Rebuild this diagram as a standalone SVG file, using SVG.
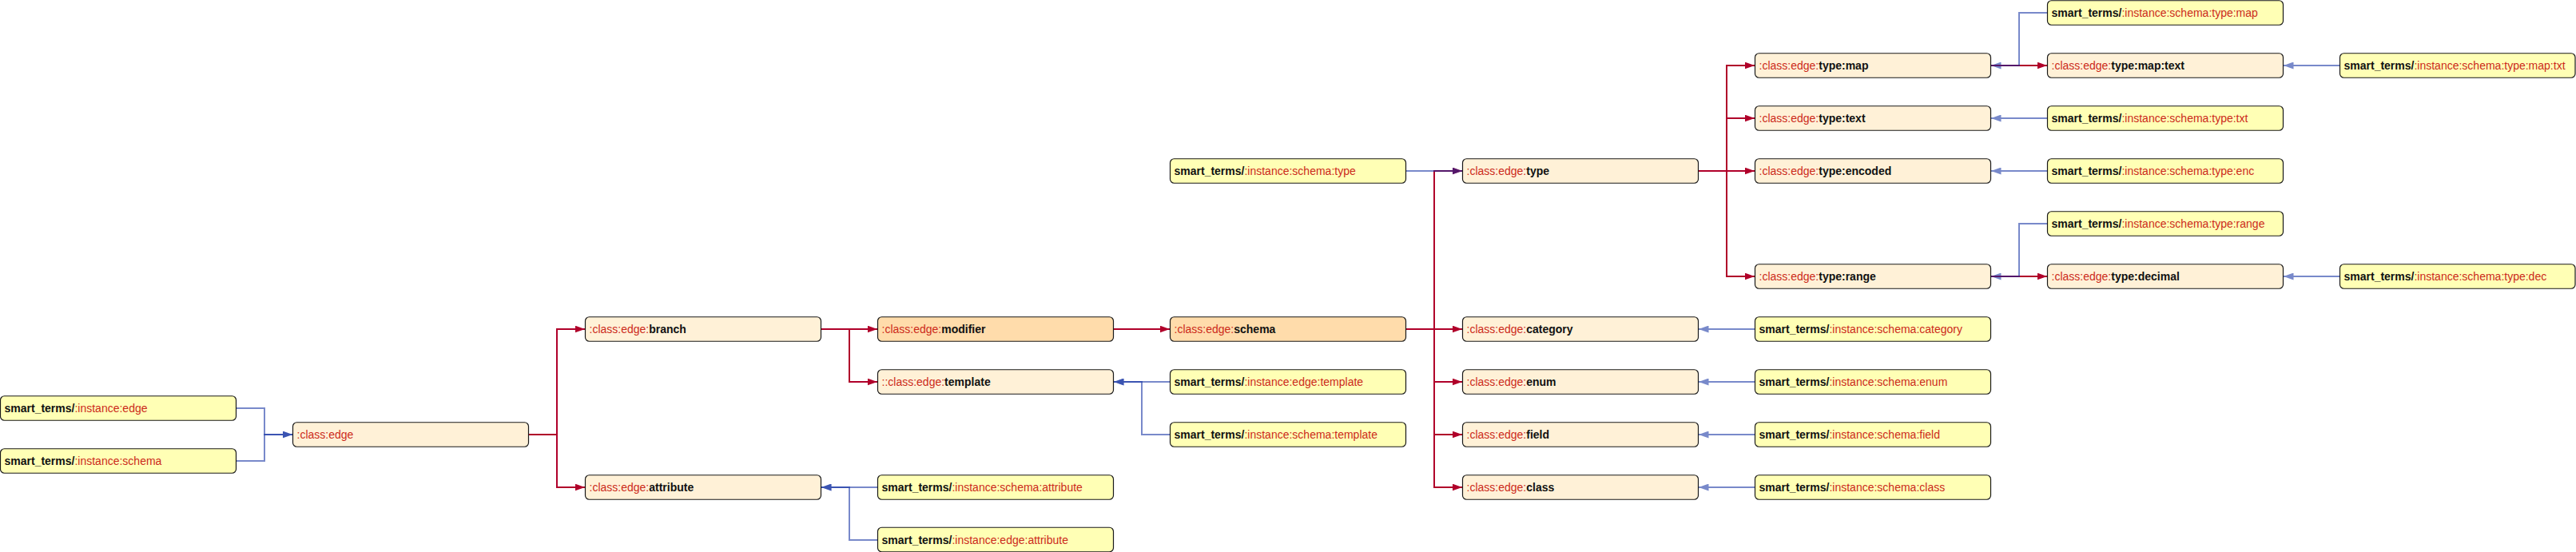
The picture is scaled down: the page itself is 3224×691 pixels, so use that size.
<svg xmlns="http://www.w3.org/2000/svg" width="3224" height="691" viewBox="0 0 3224 691">
<style>
.n rect{stroke:#1a1a1a;stroke-width:1.2}
.c{fill:#fff1d7}
.o{fill:#ffdcab}
.i{fill:#ffffb5}
text{font-family:"Liberation Sans",Arial,Helvetica,sans-serif;font-size:14px;fill:#cc2a1a}
.b{font-weight:bold;fill:#111}
.red path{fill:none;stroke:#b0002a;stroke-width:2}
.blue path{fill:none;stroke:#0a2aa0;stroke-width:2;opacity:0.55}
</style>
<defs>
<marker id="ar" markerUnits="userSpaceOnUse" markerWidth="13" markerHeight="9" refX="12.5" refY="4.5" orient="auto"><path d="M0,0 L12.5,4.5 L0,9 Z" fill="#b0002a"/></marker>
<marker id="ab" markerUnits="userSpaceOnUse" markerWidth="13" markerHeight="9" refX="12.5" refY="4.5" orient="auto"><path d="M0,0 L12.5,4.5 L0,9 Z" fill="#0a2aa0"/></marker>
</defs>
<rect width="3224" height="691" fill="#ffffff"/>
<g id="connectors">
<g class="red">
<path d="M661.5,544 H697 V412 H732" marker-end="url(#ar)"/>
<path d="M661.5,544 H697 V610 H732" marker-end="url(#ar)"/>
<path d="M1027.5,412 H1098" marker-end="url(#ar)"/>
<path d="M1027.5,412 H1063 V478 H1098" marker-end="url(#ar)"/>
<path d="M1393.5,412 H1464" marker-end="url(#ar)"/>
<path d="M1759.5,412 H1795 V214 H1830" marker-end="url(#ar)"/>
<path d="M1759.5,412 H1830" marker-end="url(#ar)"/>
<path d="M1759.5,412 H1795 V478 H1830" marker-end="url(#ar)"/>
<path d="M1759.5,412 H1795 V544 H1830" marker-end="url(#ar)"/>
<path d="M1759.5,412 H1795 V610 H1830" marker-end="url(#ar)"/>
<path d="M2125.5,214 H2161 V82 H2196" marker-end="url(#ar)"/>
<path d="M2125.5,214 H2161 V148 H2196" marker-end="url(#ar)"/>
<path d="M2125.5,214 H2196" marker-end="url(#ar)"/>
<path d="M2125.5,214 H2161 V346 H2196" marker-end="url(#ar)"/>
<path d="M2491.5,82 H2562" marker-end="url(#ar)"/>
<path d="M2491.5,346 H2562" marker-end="url(#ar)"/>
</g>
<g class="blue">
<path d="M295.5,511 H331 V544 H366" marker-end="url(#ab)"/>
<path d="M295.5,577 H331 V544 H366" marker-end="url(#ab)"/>
<path d="M1464.5,478 H1394" marker-end="url(#ab)"/>
<path d="M1464.5,544 H1429 V478 H1394" marker-end="url(#ab)"/>
<path d="M1098.5,610 H1028" marker-end="url(#ab)"/>
<path d="M1098.5,676 H1063 V610 H1028" marker-end="url(#ab)"/>
<path d="M1759.5,214 H1830" marker-end="url(#ab)"/>
<path d="M2196.5,412 H2126" marker-end="url(#ab)"/>
<path d="M2196.5,478 H2126" marker-end="url(#ab)"/>
<path d="M2196.5,544 H2126" marker-end="url(#ab)"/>
<path d="M2196.5,610 H2126" marker-end="url(#ab)"/>
<path d="M2562.5,16 H2527 V82 H2492" marker-end="url(#ab)"/>
<path d="M2562.5,148 H2492" marker-end="url(#ab)"/>
<path d="M2562.5,214 H2492" marker-end="url(#ab)"/>
<path d="M2562.5,280 H2527 V346 H2492" marker-end="url(#ab)"/>
<path d="M2928.5,82 H2858" marker-end="url(#ab)"/>
<path d="M2928.5,346 H2858" marker-end="url(#ab)"/>
</g>
</g>
<g id="n_inst_edge" class="n" transform="translate(0.5,495.75)"><rect class="i" width="295" height="30.5" rx="5"/><text x="5" y="20.25"><tspan class="b">smart_terms/</tspan>:instance:edge</text></g>
<g id="n_inst_schema" class="n" transform="translate(0.5,561.75)"><rect class="i" width="295" height="30.5" rx="5"/><text x="5" y="20.25"><tspan class="b">smart_terms/</tspan>:instance:schema</text></g>
<g id="n_class_edge" class="n" transform="translate(366.5,528.75)"><rect class="c" width="295" height="30.5" rx="5"/><text x="5" y="20.25">:class:edge</text></g>
<g id="n_branch" class="n" transform="translate(732.5,396.75)"><rect class="c" width="295" height="30.5" rx="5"/><text x="5" y="20.25">:class:edge:<tspan class="b">branch</tspan></text></g>
<g id="n_attribute" class="n" transform="translate(732.5,594.75)"><rect class="c" width="295" height="30.5" rx="5"/><text x="5" y="20.25">:class:edge:<tspan class="b">attribute</tspan></text></g>
<g id="n_modifier" class="n" transform="translate(1098.5,396.75)"><rect class="o" width="295" height="30.5" rx="5"/><text x="5" y="20.25">:class:edge:<tspan class="b">modifier</tspan></text></g>
<g id="n_template" class="n" transform="translate(1098.5,462.75)"><rect class="c" width="295" height="30.5" rx="5"/><text x="5" y="20.25">::class:edge:<tspan class="b">template</tspan></text></g>
<g id="n_inst_schema_attribute" class="n" transform="translate(1098.5,594.75)"><rect class="i" width="295" height="30.5" rx="5"/><text x="5" y="20.25"><tspan class="b">smart_terms/</tspan>:instance:schema:attribute</text></g>
<g id="n_inst_edge_attribute" class="n" transform="translate(1098.5,660.25)"><rect class="i" width="295" height="30.5" rx="5"/><text x="5" y="20.75"><tspan class="b">smart_terms/</tspan>:instance:edge:attribute</text></g>
<g id="n_inst_schema_type" class="n" transform="translate(1464.5,198.75)"><rect class="i" width="295" height="30.5" rx="5"/><text x="5" y="20.25"><tspan class="b">smart_terms/</tspan>:instance:schema:type</text></g>
<g id="n_schema" class="n" transform="translate(1464.5,396.75)"><rect class="o" width="295" height="30.5" rx="5"/><text x="5" y="20.25">:class:edge:<tspan class="b">schema</tspan></text></g>
<g id="n_inst_edge_template" class="n" transform="translate(1464.5,462.75)"><rect class="i" width="295" height="30.5" rx="5"/><text x="5" y="20.25"><tspan class="b">smart_terms/</tspan>:instance:edge:template</text></g>
<g id="n_inst_schema_template" class="n" transform="translate(1464.5,528.75)"><rect class="i" width="295" height="30.5" rx="5"/><text x="5" y="20.25"><tspan class="b">smart_terms/</tspan>:instance:schema:template</text></g>
<g id="n_type" class="n" transform="translate(1830.5,198.75)"><rect class="c" width="295" height="30.5" rx="5"/><text x="5" y="20.25">:class:edge:<tspan class="b">type</tspan></text></g>
<g id="n_category" class="n" transform="translate(1830.5,396.75)"><rect class="c" width="295" height="30.5" rx="5"/><text x="5" y="20.25">:class:edge:<tspan class="b">category</tspan></text></g>
<g id="n_enum" class="n" transform="translate(1830.5,462.75)"><rect class="c" width="295" height="30.5" rx="5"/><text x="5" y="20.25">:class:edge:<tspan class="b">enum</tspan></text></g>
<g id="n_field" class="n" transform="translate(1830.5,528.75)"><rect class="c" width="295" height="30.5" rx="5"/><text x="5" y="20.25">:class:edge:<tspan class="b">field</tspan></text></g>
<g id="n_class" class="n" transform="translate(1830.5,594.75)"><rect class="c" width="295" height="30.5" rx="5"/><text x="5" y="20.25">:class:edge:<tspan class="b">class</tspan></text></g>
<g id="n_type_map" class="n" transform="translate(2196.5,66.75)"><rect class="c" width="295" height="30.5" rx="5"/><text x="5" y="20.25">:class:edge:<tspan class="b">type:map</tspan></text></g>
<g id="n_type_text" class="n" transform="translate(2196.5,132.75)"><rect class="c" width="295" height="30.5" rx="5"/><text x="5" y="20.25">:class:edge:<tspan class="b">type:text</tspan></text></g>
<g id="n_type_encoded" class="n" transform="translate(2196.5,198.75)"><rect class="c" width="295" height="30.5" rx="5"/><text x="5" y="20.25">:class:edge:<tspan class="b">type:encoded</tspan></text></g>
<g id="n_type_range" class="n" transform="translate(2196.5,330.75)"><rect class="c" width="295" height="30.5" rx="5"/><text x="5" y="20.25">:class:edge:<tspan class="b">type:range</tspan></text></g>
<g id="n_inst_schema_category" class="n" transform="translate(2196.5,396.75)"><rect class="i" width="295" height="30.5" rx="5"/><text x="5" y="20.25"><tspan class="b">smart_terms/</tspan>:instance:schema:category</text></g>
<g id="n_inst_schema_enum" class="n" transform="translate(2196.5,462.75)"><rect class="i" width="295" height="30.5" rx="5"/><text x="5" y="20.25"><tspan class="b">smart_terms/</tspan>:instance:schema:enum</text></g>
<g id="n_inst_schema_field" class="n" transform="translate(2196.5,528.75)"><rect class="i" width="295" height="30.5" rx="5"/><text x="5" y="20.25"><tspan class="b">smart_terms/</tspan>:instance:schema:field</text></g>
<g id="n_inst_schema_class" class="n" transform="translate(2196.5,594.75)"><rect class="i" width="295" height="30.5" rx="5"/><text x="5" y="20.25"><tspan class="b">smart_terms/</tspan>:instance:schema:class</text></g>
<g id="n_inst_schema_type_map" class="n" transform="translate(2562.5,0.75)"><rect class="i" width="295" height="30.5" rx="5"/><text x="5" y="20.25"><tspan class="b">smart_terms/</tspan>:instance:schema:type:map</text></g>
<g id="n_type_map_text" class="n" transform="translate(2562.5,66.75)"><rect class="c" width="295" height="30.5" rx="5"/><text x="5" y="20.25">:class:edge:<tspan class="b">type:map:text</tspan></text></g>
<g id="n_inst_schema_type_txt" class="n" transform="translate(2562.5,132.75)"><rect class="i" width="295" height="30.5" rx="5"/><text x="5" y="20.25"><tspan class="b">smart_terms/</tspan>:instance:schema:type:txt</text></g>
<g id="n_inst_schema_type_enc" class="n" transform="translate(2562.5,198.75)"><rect class="i" width="295" height="30.5" rx="5"/><text x="5" y="20.25"><tspan class="b">smart_terms/</tspan>:instance:schema:type:enc</text></g>
<g id="n_inst_schema_type_range" class="n" transform="translate(2562.5,264.75)"><rect class="i" width="295" height="30.5" rx="5"/><text x="5" y="20.25"><tspan class="b">smart_terms/</tspan>:instance:schema:type:range</text></g>
<g id="n_type_decimal" class="n" transform="translate(2562.5,330.75)"><rect class="c" width="295" height="30.5" rx="5"/><text x="5" y="20.25">:class:edge:<tspan class="b">type:decimal</tspan></text></g>
<g id="n_inst_schema_type_map_txt" class="n" transform="translate(2928.5,66.75)"><rect class="i" width="294.5" height="30.5" rx="5"/><text x="5" y="20.25"><tspan class="b">smart_terms/</tspan>:instance:schema:type:map:txt</text></g>
<g id="n_inst_schema_type_dec" class="n" transform="translate(2928.5,330.75)"><rect class="i" width="294.5" height="30.5" rx="5"/><text x="5" y="20.25"><tspan class="b">smart_terms/</tspan>:instance:schema:type:dec</text></g>
</svg>
